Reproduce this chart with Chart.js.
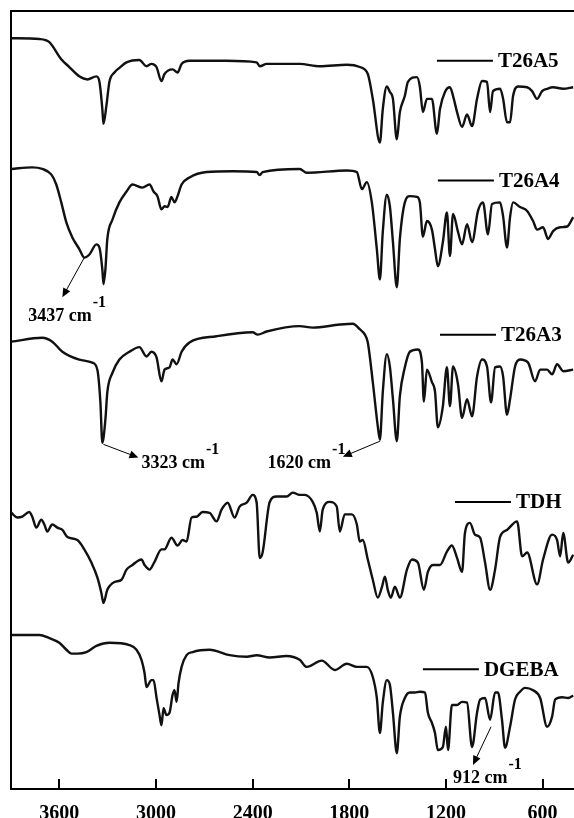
<!DOCTYPE html>
<html>
<head>
<meta charset="utf-8">
<script src="https://cdn.jsdelivr.net/npm/chart.js@4.4.1/dist/chart.umd.min.js"></script>
<style>
html,body{margin:0;padding:0;background:#fff;}
canvas{display:block;}
</style>
</head>
<body>
<canvas id="c" width="574" height="818"></canvas>
<script>
// wavenumbers (cm-1) and offset transmittance
var seriesNames = ['T26A5', 'T26A4', 'T26A3', 'TDH', 'DGEBA'];
var xTicks = [3600, 3000, 2400, 1800, 1200, 600];

var t26a5Wn = [3898,3724,3662,3588,3538,3476,3426,3370,3351,3333,3326,3308,3289,3258,3227,3183,3103,3059,3028,2997,2966,2947,2897,2866,2841,2792,2562,2375,2356,2313,2108,1983,1815,1735,1685,1654,1610,1592,1567,1548,1529,1505,1486,1455,1436,1380,1362,1343,1318,1287,1256,1237,1206,1175,1156,1131,1100,1069,1038,1007,976,945,926,908,864,845,821,802,783,752,696,665,634,603,572,535,472,410];
var t26a5T = [96.5,96.4,96.0,93.8,92.8,91.6,91.2,91.6,90.9,87.4,85.5,87.8,90.9,92.1,92.7,93.4,93.7,92.9,93.2,92.8,91.0,91.9,92.5,92.1,93.2,93.6,93.6,93.4,92.9,93.2,93.2,92.9,93.1,92.8,91.9,88.7,83.1,87.4,90.3,89.6,88.7,83.5,87.0,89.1,90.9,91.5,90.3,87.0,88.7,88.7,84.2,87.4,89.6,90.2,89.1,87.0,85.1,86.7,85.2,88.7,91.0,90.9,87.0,89.7,90.0,88.7,85.7,85.7,89.1,90.3,90.2,89.7,88.7,89.7,90.0,90.2,90.0,90.2];

var t26a4Wn = [3898,3768,3706,3650,3619,3588,3556,3519,3476,3445,3413,3370,3351,3333,3326,3314,3302,3270,3227,3183,3146,3084,3040,3015,2991,2966,2947,2928,2904,2885,2866,2841,2792,2686,2524,2375,2356,2338,2108,2064,1815,1753,1722,1691,1660,1629,1610,1592,1567,1548,1529,1505,1486,1455,1424,1380,1362,1343,1318,1287,1268,1250,1219,1194,1175,1156,1125,1100,1069,1038,1001,970,939,914,864,845,821,802,783,740,696,659,634,597,566,535,491,448,410];
var t26a4T = [79.7,79.9,79.7,79.0,77.7,75.4,72.8,70.9,69.4,68.3,68.7,70.0,69.6,66.8,64.9,66.8,70.7,73.2,75.4,76.8,77.7,77.3,77.7,76.8,76.2,74.5,74.9,74.8,76.1,75.4,76.2,77.7,78.6,79.3,79.4,79.3,78.9,79.3,79.7,79.2,79.5,79.3,77.1,78.0,75.4,69.4,65.5,71.6,76.4,74.9,70.3,64.5,70.7,75.4,76.2,76.1,75.4,71.0,73.0,71.9,69.4,67.2,70.3,74.1,68.5,73.9,71.6,70.0,72.6,70.3,74.3,75.4,71.3,75.2,75.4,73.6,69.6,73.5,75.4,74.8,74.3,73.0,71.9,72.2,70.7,71.7,72.2,72.3,73.5];

var t26a3Wn = [3898,3706,3644,3581,3476,3395,3364,3345,3333,3314,3302,3270,3227,3165,3103,3059,3028,2997,2966,2947,2916,2897,2872,2841,2792,2624,2400,2369,2313,2108,2027,1859,1778,1735,1703,1685,1654,1623,1610,1592,1567,1548,1529,1505,1486,1455,1424,1374,1349,1337,1318,1287,1268,1250,1219,1194,1175,1156,1125,1100,1069,1038,1007,976,945,920,895,864,845,821,802,771,740,690,647,615,572,541,510,472,410];
var t26a3T = [57.5,58.0,57.5,56.2,55.2,54.8,53.9,49.7,44.5,47.5,51.0,53.5,55.2,56.2,56.8,55.6,56.2,55.5,52.4,53.9,54.2,55.2,54.6,56.2,57.4,58.2,58.7,58.4,58.8,59.5,59.3,59.7,59.8,59.1,58.4,57.4,52.3,46.6,44.9,51.0,55.9,54.3,50.1,44.7,50.5,54.2,56.2,56.5,54.8,49.8,53.9,52.3,51.1,46.5,49.2,54.2,49.2,54.3,52.0,47.7,50.1,47.9,53.0,55.2,54.3,49.7,54.2,54.3,53.0,48.1,50.1,54.3,55.2,54.8,52.4,53.9,53.9,53.3,54.6,53.7,53.9];

var tdhWn = [3898,3861,3830,3787,3768,3743,3712,3693,3675,3644,3612,3581,3550,3488,3445,3401,3364,3339,3326,3302,3258,3214,3183,3146,3090,3071,3040,3009,2966,2947,2904,2866,2835,2810,2779,2748,2711,2667,2624,2593,2555,2512,2481,2437,2400,2375,2356,2338,2294,2251,2189,2151,2108,2077,2027,2002,1983,1965,1921,1878,1859,1828,1784,1753,1735,1716,1685,1654,1623,1598,1579,1561,1542,1517,1486,1442,1411,1374,1337,1312,1281,1237,1194,1163,1131,1100,1082,1051,1020,988,957,926,895,864,821,758,727,696,634,597,541,510,491,472,441,410];
var tdhT = [35.5,34.9,35.0,35.6,35.0,33.6,34.6,34.0,33.1,34.0,33.6,33.3,32.4,32.0,30.8,29.1,27.2,25.2,23.9,25.6,26.6,26.9,28.2,28.8,29.5,28.8,28.2,29.2,30.8,30.8,32.3,31.3,32.0,31.8,34.9,35.0,35.6,35.5,34.4,35.9,36.8,34.9,36.3,36.8,37.8,36.8,29.7,30.4,36.9,37.6,37.6,38.1,37.8,37.8,36.9,35.5,33.1,35.9,36.9,36.3,33.1,35.3,35.3,34.0,31.8,32.0,29.5,26.9,24.6,25.9,27.3,25.6,24.6,26.0,24.6,28.2,29.5,29.1,25.6,27.9,28.8,28.8,30.5,31.3,29.7,27.9,32.9,34.2,32.7,32.3,29.1,25.6,28.2,32.4,33.3,34.4,29.9,30.4,26.3,29.5,32.7,32.0,29.9,32.9,29.1,30.1];

var dgebaWn = [3898,3724,3662,3600,3556,3525,3488,3432,3370,3289,3165,3121,3090,3071,3059,3028,3015,2997,2978,2966,2953,2935,2916,2897,2885,2872,2860,2841,2810,2773,2667,2543,2437,2375,2294,2189,2108,2064,1971,1890,1815,1753,1691,1654,1629,1610,1592,1567,1548,1529,1505,1486,1455,1424,1393,1362,1330,1312,1287,1268,1250,1219,1200,1187,1163,1131,1100,1069,1038,1007,988,957,926,895,877,852,833,802,771,740,709,659,615,572,541,522,479,441,410];
var dgebaT = [19.8,19.8,19.4,18.8,17.9,17.4,17.4,17.6,18.4,18.8,18.5,17.9,16.6,14.9,13.1,14.0,14.0,11.8,9.5,8.2,10.4,9.5,9.8,12.1,12.7,11.2,13.6,15.7,17.2,17.6,17.9,17.2,17.0,17.2,16.9,17.1,16.6,15.7,16.5,15.3,16.1,15.7,15.7,14.4,11.7,7.2,11.1,14.0,13.4,9.8,4.6,9.3,11.7,12.4,12.4,12.5,12.4,9.8,8.5,7.2,5.0,5.4,8.0,5.0,10.8,10.8,11.2,11.1,5.4,9.8,11.5,11.7,8.9,12.4,12.4,8.9,5.3,8.0,11.5,12.5,13.0,12.7,11.7,8.0,9.3,11.5,11.8,11.7,12.0];

var allWn = [t26a5Wn, t26a4Wn, t26a3Wn, tdhWn, dgebaWn];
var allT = [t26a5T, t26a4T, t26a3T, tdhT, dgebaT];

var SERIF = '"Liberation Serif", "Times New Roman", serif';

// where each name tag sits (wavenumber of line start, y level)
var tagPos = [[1256, 93.6], [1250, 78.2], [1237, 58.4], [1144, 36.9], [1343, 15.4]];

// peak callouts: arrow tail on the trace, arrow head, text anchor
var notes = [
  {text: '3437 cm', from: [3445, 68.3], to: [3581, 63.2], at: [3793, 60.1]},
  {text: '3323 cm', from: [3326, 44.3], to: [3109, 42.6], at: [3090, 41.3]},
  {text: '1620 cm', from: [1610, 44.7], to: [1840, 42.7], at: [2307, 41.3]},
  {text: '912 cm',  from: [920, 8.0],   to: [1032, 3.1],  at: [1156, 0.8]}
];

function toPoints(wn, t) {
  var pts = [];
  for (var i = 0; i < wn.length; i++) pts.push({x: wn[i], y: t[i]});
  return pts;
}

var datasets = seriesNames.map(function(name, i) {
  return {
    label: name,
    data: toPoints(allWn[i], allT[i]),
    borderColor: '#111',
    borderWidth: 2.4,
    pointRadius: 0,
    cubicInterpolationMode: 'monotone',
    fill: false
  };
});

var overlay = {
  id: 'overlay',
  afterDatasetsDraw: function(chart) {
    var ctx = chart.ctx, xs = chart.scales.x, ys = chart.scales.y, a = chart.chartArea;
    ctx.save();
    ctx.strokeStyle = '#000';
    ctx.fillStyle = '#000';

    // ticks point into the plot
    ctx.lineWidth = 2;
    xs.ticks.forEach(function(t) {
      var px = Math.round(xs.getPixelForValue(t.value));
      ctx.beginPath();
      ctx.moveTo(px, a.bottom);
      ctx.lineTo(px, a.bottom - 10);
      ctx.stroke();
    });

    // name tags
    ctx.font = 'bold 21px ' + SERIF;
    ctx.textBaseline = 'middle';
    seriesNames.forEach(function(name, i) {
      var x0 = xs.getPixelForValue(tagPos[i][0]);
      var y0 = ys.getPixelForValue(tagPos[i][1]);
      ctx.lineWidth = 2;
      ctx.beginPath();
      ctx.moveTo(x0, y0);
      ctx.lineTo(x0 + 56, y0);
      ctx.stroke();
      ctx.fillText(name, x0 + 61, y0 + 1);
    });

    // callouts
    ctx.textBaseline = 'alphabetic';
    notes.forEach(function(n) {
      var x1 = xs.getPixelForValue(n.from[0]), y1 = ys.getPixelForValue(n.from[1]);
      var x2 = xs.getPixelForValue(n.to[0]), y2 = ys.getPixelForValue(n.to[1]);
      var ang = Math.atan2(y2 - y1, x2 - x1);
      ctx.lineWidth = 1;
      ctx.beginPath();
      ctx.moveTo(x1, y1);
      ctx.lineTo(x2 - 6 * Math.cos(ang), y2 - 6 * Math.sin(ang));
      ctx.stroke();
      ctx.beginPath();
      ctx.moveTo(x2, y2);
      ctx.lineTo(x2 - 9 * Math.cos(ang) + 4 * Math.sin(ang), y2 - 9 * Math.sin(ang) - 4 * Math.cos(ang));
      ctx.lineTo(x2 - 9 * Math.cos(ang) - 4 * Math.sin(ang), y2 - 9 * Math.sin(ang) + 4 * Math.cos(ang));
      ctx.closePath();
      ctx.fill();

      var tx = xs.getPixelForValue(n.at[0]), ty = ys.getPixelForValue(n.at[1]);
      ctx.font = 'bold 18px ' + SERIF;
      ctx.fillText(n.text, tx, ty);
      var w = ctx.measureText(n.text).width;
      ctx.font = 'bold 16px ' + SERIF;
      ctx.fillText('-1', tx + w + 1, ty - 14);
    });
    ctx.restore();
  }
};

var chart = new Chart(document.getElementById('c'), {
  type: 'line',
  data: {datasets: datasets},
  options: {
    responsive: false,
    animation: false,
    layout: {padding: {left: 11, top: 11, right: 0, bottom: 0}},
    plugins: {legend: {display: false}, tooltip: {enabled: false}},
    scales: {
      x: {
        type: 'linear',
        position: 'bottom',
        reverse: true,
        min: 405,
        max: 3900,
        grid: {display: false},
        border: {display: true, width: 2, color: '#000'},
        afterBuildTicks: function(scale) {
          scale.ticks = xTicks.map(function(v) { return {value: v}; });
        },
        ticks: {
          color: '#000',
          padding: 5,
          maxRotation: 0,
          autoSkip: false,
          font: {family: SERIF, size: 20, weight: 'bold'},
          callback: function(v) { return String(v); }
        },
        afterFit: function(scale) { scale.height = 29; }
      },
      xTop: {
        type: 'linear',
        position: 'top',
        reverse: true,
        min: 405,
        max: 3900,
        grid: {display: false},
        ticks: {display: false},
        border: {display: true, width: 2, color: '#000'},
        afterFit: function(scale) { scale.height = 0; }
      },
      y: {
        type: 'linear',
        min: 0,
        max: 100,
        grid: {display: false},
        ticks: {display: false},
        border: {display: true, width: 2, color: '#000'},
        afterFit: function(scale) { scale.width = 0; }
      }
    }
  },
  plugins: [overlay]
});
</script>
</body>
</html>
